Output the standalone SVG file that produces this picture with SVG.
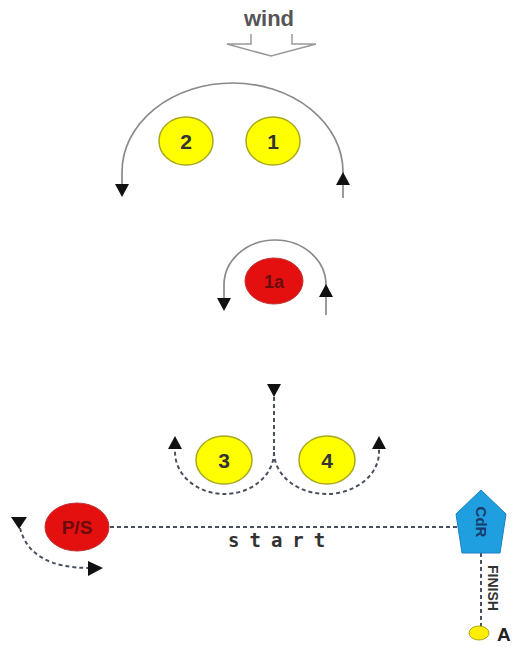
<svg xmlns="http://www.w3.org/2000/svg" width="517" height="647" viewBox="0 0 517 647">
<defs>
<style>
.arc{fill:none;stroke:#8a8a8a;stroke-width:1.7}
.dash{fill:none;stroke:#4a505e;stroke-width:2;stroke-dasharray:4 3}
.ah{fill:#111}
.yel{fill:#ffff00;stroke:#a8a820;stroke-width:1.5}
.red{fill:#e41010;stroke:#c03030;stroke-width:1}
.num{font-family:"Liberation Sans",Arial,sans-serif;font-weight:bold;font-size:21px;fill:#333;text-anchor:middle}
</style>
</defs>
<g id="wind">
<text x="269" y="26" font-family="Liberation Sans,Arial,sans-serif" font-weight="bold" font-size="22" fill="#555" text-anchor="middle">wind</text>
<path d="M251,34 V44 H227 L271,56 L316,44 H292 V34" fill="none" stroke="#999" stroke-width="1.5"/>
</g>
<g id="connectors">
<path class="arc" d="M343,198 V172 A110.5,89 0 0 0 122,172 V186"/>
<polygon class="ah" points="115,184 129,184 122,197"/>
<polygon class="ah" points="336,185 350,185 343,172"/>
<path class="arc" d="M326,315 V285 A51,45 0 0 0 224,285 V300"/>
<polygon class="ah" points="217,298 231,298 224,311"/>
<polygon class="ah" points="319,297 333,297 326,284"/>
<path class="dash" d="M274,397 V452"/>
<polygon class="ah" points="267,384 281,384 274,397"/>
<path class="dash" d="M274,452 A49.5,42 0 0 1 175,452 V448"/>
<polygon class="ah" points="168,449 182,449 175,436"/>
<path class="dash" d="M274,452 A52.5,42 0 0 0 379,452 V448"/>
<polygon class="ah" points="372,449 386,449 379,436"/>
<path class="dash" d="M20,528 Q30,568 90,568"/>
<polygon class="ah" points="11,517 27,517 19,529"/>
<polygon class="ah" points="88,561 88,576 103,568"/>
<path class="dash" d="M110,527 H457"/>
<path class="dash" d="M481,553 V627"/>
</g>
<g id="n2"><ellipse class="yel" cx="186" cy="141" rx="27" ry="24"/><text class="num" x="186" y="149">2</text></g>
<g id="n1"><ellipse class="yel" cx="273" cy="141" rx="27" ry="24"/><text class="num" x="273" y="149">1</text></g>
<g id="n1a"><ellipse class="red" cx="274" cy="281" rx="29" ry="23"/><text x="274" y="288" font-family="Liberation Sans,Arial,sans-serif" font-weight="bold" font-size="18" fill="#6a0c0c" text-anchor="middle">1a</text></g>
<g id="n3"><ellipse class="yel" cx="224" cy="460" rx="28" ry="24"/><text class="num" x="224" y="468">3</text></g>
<g id="n4"><ellipse class="yel" cx="327" cy="460" rx="28" ry="24"/><text class="num" x="327" y="468">4</text></g>
<g id="ps"><ellipse class="red" cx="77" cy="527" rx="32" ry="24"/><text x="77" y="534" font-family="Liberation Sans,Arial,sans-serif" font-weight="bold" font-size="19" fill="#6a0c0c" text-anchor="middle">P/S</text></g>
<g id="start"><text x="228" y="547" font-family="DejaVu Sans Mono,monospace" font-weight="bold" font-size="19" letter-spacing="10" fill="#333">start</text></g>
<g id="cdr">
<polygon points="481,490 506,514 500,553 462,553 456,514" fill="#1f9fdf" stroke="#1a80c0" stroke-width="1"/>
<text transform="translate(481,522) rotate(90)" font-family="Liberation Sans,Arial,sans-serif" font-weight="bold" font-size="15" fill="#1a3a6a" text-anchor="middle" dominant-baseline="central">CdR</text>
</g>
<g id="finish"><text transform="translate(493,588) rotate(90)" font-family="Liberation Sans,Arial,sans-serif" font-weight="bold" font-size="14" fill="#333" text-anchor="middle" dominant-baseline="central">FINISH</text></g>
<g id="a"><ellipse cx="479" cy="633" rx="10" ry="7" fill="#ffee00" stroke="#a8a820" stroke-width="1"/><text x="497" y="641" font-family="Liberation Sans,Arial,sans-serif" font-weight="bold" font-size="19" fill="#222">A</text></g>
</svg>
